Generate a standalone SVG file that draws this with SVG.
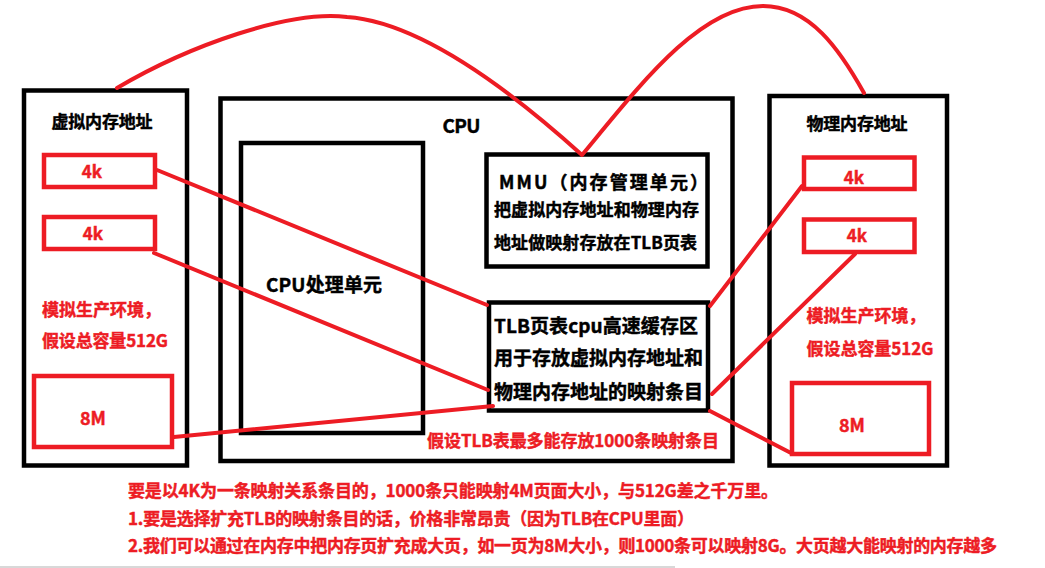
<svg xmlns="http://www.w3.org/2000/svg" width="1045" height="568" viewBox="0 0 1045 568">
<style>
text{font-family:"Noto Sans CJK SC","Microsoft YaHei",sans-serif;font-weight:700;stroke-width:0.45}
.blk{fill:none;stroke:#000;stroke-width:4.5}
.rbox{fill:none;stroke:#ED1C24;stroke-width:4.5}
.t{fill:#000;stroke:#000}
.r{fill:#ED1C24;stroke:#ED1C24}
.conn{fill:none;stroke:#ED1C24;stroke-width:4;stroke-linecap:round;stroke-linejoin:round}
</style>
<rect width="1045" height="568" fill="#fff"/>
<rect x="0" y="566" width="675" height="2" fill="#d8d8d8"/>

<g id="virtual-memory">
<rect class="blk" x="24" y="90.5" width="163" height="375"/>
<text class="t" x="51.5" y="128" font-size="17" textLength="101">虚拟内存地址</text>
<rect class="rbox" x="44" y="155" width="111" height="32"/>
<text class="r" x="92" y="178" font-size="17" text-anchor="middle">4k</text>
<rect class="rbox" x="44" y="217" width="111" height="32"/>
<text class="r" x="93" y="240" font-size="17" text-anchor="middle">4k</text>
<text class="r" x="42" y="316" font-size="17">模拟生产环境，</text>
<text class="r" x="42" y="347" font-size="17" textLength="126">假设总容量512G</text>
<rect class="rbox" x="34" y="376" width="138" height="71"/>
<text class="r" x="93" y="425" font-size="18" text-anchor="middle">8M</text>
</g>

<g id="cpu">
<rect class="blk" x="220.5" y="98.5" width="512" height="362.5"/>
<text class="t" x="442.5" y="133" font-size="19" textLength="38">CPU</text>
</g>

<g id="cpu-unit">
<rect class="blk" x="241" y="143" width="182" height="290"/>
<text class="t" x="266" y="292" font-size="19" textLength="116">CPU处理单元</text>
</g>

<g id="mmu">
<rect class="blk" x="486.5" y="154.5" width="221" height="112"/>
<text class="t" x="499" y="189" font-size="18" textLength="209">MMU（内存管理单元）</text>
<text class="t" x="494" y="216" font-size="17" textLength="205">把虚拟内存地址和物理内存</text>
<text class="t" x="494" y="249" font-size="17" textLength="203">地址做映射存放在TLB页表</text>
</g>

<g id="tlb">
<rect class="blk" x="489" y="302.5" width="219" height="108"/>
<text class="t" x="494" y="333" font-size="19" textLength="204">TLB页表cpu高速缓存区</text>
<text class="t" x="494" y="365" font-size="19" textLength="209">用于存放虚拟内存地址和</text>
<text class="t" x="494" y="399" font-size="19" textLength="209">物理内存地址的映射条目</text>
</g>

<g id="tlb-note">
<text class="r" x="427" y="447" font-size="17" textLength="292">假设TLB表最多能存放1000条映射条目</text>
</g>

<g id="physical-memory">
<rect class="blk" x="769.5" y="96" width="177.5" height="369.5"/>
<text class="t" x="806.5" y="130" font-size="17" textLength="101">物理内存地址</text>
<rect class="rbox" x="804" y="157.5" width="110.5" height="31.5"/>
<text class="r" x="854" y="184" font-size="17" text-anchor="middle">4k</text>
<rect class="rbox" x="804" y="219.5" width="110.5" height="32.5"/>
<text class="r" x="857" y="242" font-size="17" text-anchor="middle">4k</text>
<text class="r" x="806.5" y="322" font-size="17">模拟生产环境，</text>
<text class="r" x="806.5" y="355" font-size="17" textLength="127">假设总容量512G</text>
<rect class="rbox" x="792" y="383" width="137" height="71"/>
<text class="r" x="852" y="431.5" font-size="18" text-anchor="middle">8M</text>
</g>

<g id="notes">
<text class="r" x="128" y="497" font-size="17" textLength="650">要是以4K为一条映射关系条目的，1000条只能映射4M页面大小，与512G差之千万里。</text>
<text class="r" x="128" y="525" font-size="17" textLength="566">1.要是选择扩充TLB的映射条目的话，价格非常昂贵（因为TLB在CPU里面）</text>
<text class="r" x="128" y="552" font-size="17" textLength="869">2.我们可以通过在内存中把内存页扩充成大页，如一页为8M大小，则1000条可以映射8G。大页越大能映射的内存越多</text>
</g>

<g id="connectors">
<path class="conn" d="M117,88 C190,45 290,10 347,17 C420,22 510,90 582,155 C640,85 700,6 763,6 C810,6 840,50 864,93"/>
<line class="conn" x1="157" y1="170" x2="487" y2="305"/>
<line class="conn" x1="154" y1="253" x2="488" y2="390"/>
<line class="conn" x1="174" y1="437" x2="493" y2="406"/>
<line class="conn" x1="710" y1="306" x2="802" y2="186"/>
<line class="conn" x1="712" y1="394" x2="855" y2="254"/>
<line class="conn" x1="710" y1="411" x2="791" y2="453"/>
</g>
</svg>
